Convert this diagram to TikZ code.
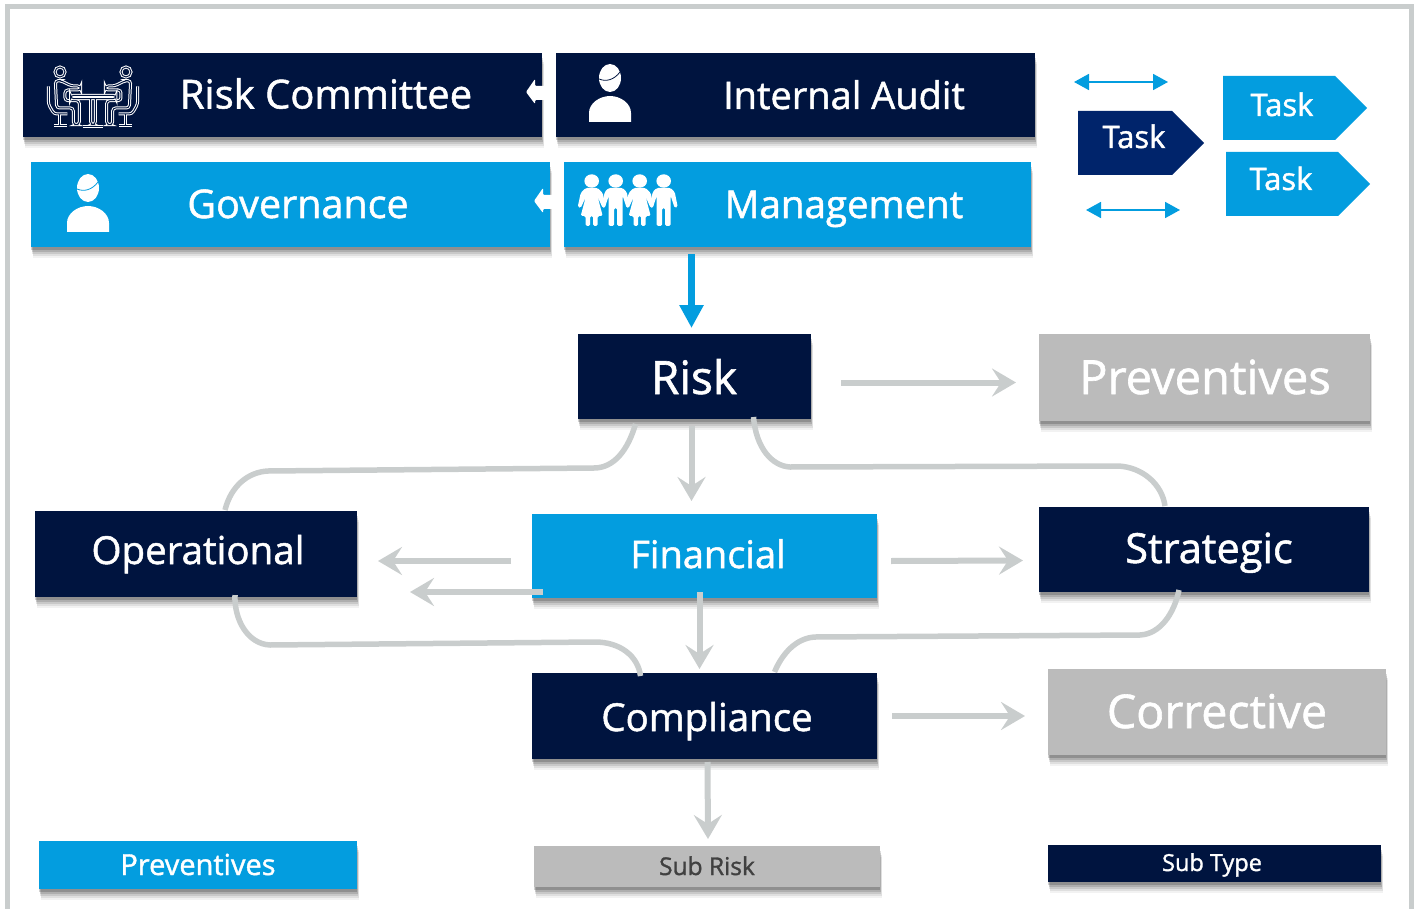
\documentclass[tikz,border=0pt]{standalone}
\usepackage{fontspec}
\setmainfont[FakeBold=1.3]{Open Sans}
\usetikzlibrary{arrows.meta,shadows,calc,shapes.symbols}
\definecolor{navy}{HTML}{00143F}
\definecolor{navyb}{HTML}{00246B}
\definecolor{sky}{HTML}{039DDF}
\definecolor{gbox}{HTML}{BBBBBB}
\definecolor{conn}{HTML}{C9CDCD}
\newcommand{\fs}[1]{\fontsize{#1}{#1}\selectfont}
\tikzset{
  softshadow/.style={
    general shadow={shadow xshift=2pt,shadow yshift=-11pt,fill=black,opacity=.05},
    general shadow={shadow xshift=2pt,shadow yshift=-9pt,fill=black,opacity=.08},
    general shadow={shadow xshift=1pt,shadow yshift=-7pt,fill=black,opacity=.1},
    general shadow={shadow xshift=1pt,shadow yshift=-5pt,fill=black,opacity=.13},
    general shadow={shadow xshift=0pt,shadow yshift=-3pt,fill=black,opacity=.18}},
  base/.style={minimum width=#1,inner sep=0pt,outer sep=0pt,softshadow},
  navybox/.style={base=#1,fill=navy},
  skybox/.style={base=#1,fill=sky},
  greybox/.style={base=#1,fill=gbox},
  lbl/.style={anchor=base,inner sep=0pt,text=white},
  tasksig/.style={shape=signal,signal to=east,signal pointer angle=90,minimum height=64pt,
    minimum width=#1,inner sep=0pt,outer sep=0pt},
  conline/.style={draw=conn,line width=5.5pt},
  conarrow/.style={draw=conn,line width=6pt,-{Stealth[length=24pt,width=28pt,inset=9pt]}},
  blueboth/.style={draw=sky,line width=1.8pt,{Triangle[length=15pt,width=16pt]}-{Triangle[length=15pt,width=16pt]}},
  tube/.style={white,line width=3pt,rounded corners=3pt},
  tubein/.style={navy,line width=1pt,rounded corners=3pt},
  person/.pic={
    \fill[white] (0,-15) ellipse (11 and 14);
    \fill[white] (-21,29) -- (-21,20) .. controls (-21,10) and (-10,3) .. (0,3) .. controls (10,3) and (21,10) .. (21,20) -- (21,29) -- cycle;
    \draw[#1,line width=.8pt] (-11,-14) .. controls (-4,-11) and (4,-13) .. (10,-21);
  },
  girl/.pic={
    \fill[white] (0,0) ellipse (7.3 and 6.7);
    \fill[white,rounded corners=1.5pt] (-6,7) -- (6,7) -- (11,12) -- (14,26) -- (11,27) -- (6,16) -- (11,35) -- (6,35) -- (6,45) -- (1.5,45) -- (1.5,35) -- (-1.5,35) -- (-1.5,45) -- (-6,45) -- (-6,35) -- (-11,35) -- (-6,16) -- (-11,27) -- (-14,26) -- (-11,12) -- cycle;
  },
  boy/.pic={
    \fill[white] (0,0) ellipse (7.3 and 6.7);
    \fill[white,rounded corners=1.5pt] (-7,7) -- (7,7) -- (11,11) -- (14,26) -- (11,27) -- (7,15) -- (7,45) -- (1.5,45) -- (1.5,27) -- (-1.5,27) -- (-1.5,45) -- (-7,45) -- (-7,15) -- (-11,27) -- (-14,26) -- (-11,11) -- cycle;
  },
  seat/.pic={
    \foreach \st in {tube,tubein}{
      \draw[\st] (60,42) circle (15);
      \draw[\st] (62,68) -- (95,84) -- (122,84) -- (122,96) -- (75,96) -- (75,128) -- (118,128) -- (118,200) -- (100,200) -- (100,150) -- (50,150) -- (46,68) -- cycle;
      \draw[\st] (25,85) -- (25,138) -- (42,168) -- (82,168);
      \draw[\st] (60,168) -- (60,203);
      \draw[\st] (42,203) -- (80,203);
    }
  }
}
\begin{document}
\begin{tikzpicture}[x=1pt,y=-1pt]
\useasboundingbox (0,0) rectangle (1415,909);
\draw[conn,line width=5pt] (7,909) -- (7,7) -- (1411,7) -- (1411,909);

% boxes
\node[navybox=519pt,minimum height=84pt] (rc) at (282.5,95) {};
\node[navybox=479pt,minimum height=84pt] (ia) at (795.5,95) {};
\node[skybox=519pt,minimum height=85pt] (gov) at (290.5,204.5) {};
\node[skybox=467pt,minimum height=85pt] (mgt) at (797.5,204.5) {};
\node[navybox=233pt,minimum height=85pt] (risk) at (694.5,376.5) {};
\node[greybox=331pt,minimum height=87pt] (prev) at (1204.5,377.5) {};
\node[navybox=322pt,minimum height=86pt] (op) at (196,554) {};
\node[skybox=345pt,minimum height=84pt] (fin) at (704.5,556) {};
\node[navybox=330pt,minimum height=85pt] (str) at (1204,549.5) {};
\node[navybox=345pt,minimum height=86pt] (comp) at (704.5,716) {};
\node[greybox=338pt,minimum height=86pt] (corr) at (1217,712) {};
\node[skybox=318pt,minimum height=48pt] (lprev) at (198,865) {};
\node[greybox=346pt,minimum height=41pt] (lsub) at (707,866.5) {};
\node[navybox=333pt,minimum height=37pt] (ltype) at (1214.5,863.5) {};

% box labels
\node[lbl,font=\fs{40}] (trc) at (326,108.5) {Risk Committee};
\node[lbl,font=\fs{38}] (tia) at (844,109) {Internal Audit};
\node[lbl,font=\fs{39.5}] (tgov) at (298,218) {Governance};
\node[lbl,font=\fs{38.5}] (tmgt) at (844,218) {Management};
\node[lbl,font=\fs{46}] (trisk) at (694,394) {Risk};
\node[lbl,font=\fs{47}] (tprev) at (1205,394) {Preventives};
\node[lbl,font=\fs{38.5}] (top) at (198,564) {Operational};
\node[lbl,font=\fs{38}] (tfin) at (708,568) {Financial};
\node[lbl,font=\fs{41.5}] (tstr) at (1209,563) {Strategic};
\node[lbl,font=\fs{38.5}] (tcomp) at (707,731) {Compliance};
\node[lbl,font=\fs{46.5}] (tcorr) at (1217,728) {Corrective};
\node[lbl,font=\fs{29}] (tlprev) at (198,875) {Preventives};
\node[lbl,font=\fs{24.5},text=black!75] (tlsub) at (707,875) {Sub Risk};
\node[lbl,font=\fs{23.5}] (tltype) at (1212,871) {Sub Type};

% tasks
\node[tasksig=126pt,fill=navyb] (t1) at (1125,143) {};
\node[tasksig=144pt,fill=sky] (t2) at (1279,108) {};
\node[tasksig=144pt,fill=sky] (t3) at (1282,184) {};
\node[lbl,font=\fs{31}] (tt1) at (1134,148) {Task};
\node[lbl,font=\fs{31}] (tt2) at (1282,116) {Task};
\node[lbl,font=\fs{31}] (tt3) at (1281,190) {Task};
\coordinate (ba1) at (1074,82); \coordinate (bb1) at (1168,82);
\coordinate (ba2) at (1086,210); \coordinate (bb2) at (1180,210);
\draw[blueboth] (ba1) -- (bb1);
\draw[blueboth] (ba2) -- (bb2);

% white stub arrows
\foreach \y/\xx in {92/526,201/534}{
  \fill[white,rounded corners=1pt] (\xx,\y) -- (\xx+9,\y-13) -- (\xx+9,\y-6) -- (\xx+20,\y-6) -- (\xx+20,\y+8) -- (\xx+9,\y+8) -- (\xx+9,\y+12) -- cycle;
}

% icons
\pic at (610,93) {person={navy}};
\pic at (88,203) {person={sky}};
\pic at (591.7,181) {girl};
\pic at (615.7,181) {boy};
\pic at (639.7,181) {girl};
\pic at (663.7,181) {boy};
\begin{scope}[shift={(40,58)},x=.3333pt,y=-.3333pt]
  \pic {seat};
  \begin{scope}[shift={(318,0)},x=-.3333pt]\pic {seat};\end{scope}
  \foreach \st in {tube,tubein}{
    \draw[\st] (92,112) rectangle (228,122);
    \draw[\st] (152,122) -- (152,200) -- (166,200) -- (166,122);
    \draw[\st] (128,205) -- (190,205);
  }
\end{scope}

% connectors
\draw[-{Triangle[length=23pt,width=23pt]},draw=sky,line width=7pt] ($(mgt.south)+(-106,7)$) -- ($(risk.north)+(-3,-6)$);
\draw[conarrow] ($(risk.east)+(30,6)$) -- ($(prev.west)+(-23,5)$);
\draw[conarrow] ($(risk.south)+(-3,7)$) -- ($(fin.north)+(-13,-13)$);
\draw[conarrow] ($(fin.east)+(14,5)$) -- ($(str.west)+(-16,11)$);
\draw[conarrow] ($(fin.west)+(-21,5)$) -- ($(op.east)+(21,7)$);
\draw[conarrow] ($(fin.west)+(11,36)$) -- ($(op.east)+(53,38)$);
\draw[conarrow] ($(fin.south)+(-5,-6)$) -- ($(comp.north)+(-5,-4)$);
\draw[conarrow] ($(comp.east)+(15,0)$) -- ($(corr.west)+(-23,4)$);
\draw[conarrow] ($(comp.south)+(3,3)$) -- ($(lsub.north)+(1,-7)$);

\draw[conline] ($(risk.south)+(-59,5)$) .. controls (628,450) and (614,468) .. (594,468) -- (268,471) .. controls (248,472) and (231,486) .. ($(op.north)+(29,-1)$);
\draw[conline] ($(risk.south)+(59,-2)$) .. controls (756,448) and (772,466) .. (790,467) -- (1118,466) .. controls (1142,467) and (1162,484) .. ($(str.north)+(-39,-1)$);
\draw[conline] ($(op.south)+(39,-2)$) .. controls (234,620) and (248,644) .. (270,645) -- (595,642) .. controls (620,642) and (638,656) .. ($(comp.north)+(-64,3)$);
\draw[conline] ($(str.south)+(-25,-2)$) .. controls (1174,614) and (1160,634) .. (1140,635) -- (815,637) .. controls (796,638) and (782,654) .. ($(comp.north)+(70,-1)$);
\end{tikzpicture}
\end{document}
